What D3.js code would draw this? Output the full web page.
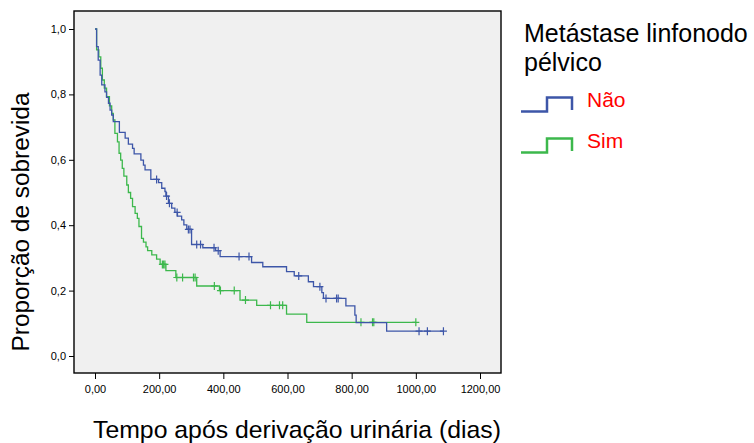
<!DOCTYPE html>
<html>
<head>
<meta charset="utf-8">
<script src="https://cdn.jsdelivr.net/npm/d3@7"></script>
<style>
  body { margin: 0; background: #fff; }
  svg { display: block; font-family: "Liberation Sans", Arial, sans-serif; }
  .tick text { font-size: 11px; fill: #000; }
  .tick line { stroke: #000; }
</style>
</head>
<body>
<svg width="754" height="443"></svg>
<script>
var svg = d3.select("svg");

// grupos
var groups = ["Não", "Sim"];
var colors = ["#3d56a8", "#3cb84c"];

// Não: tempos dos eventos e sobrevida após cada evento
var naoTimes = [5, 10, 16, 21, 31, 36, 42, 47, 52, 57, 76, 94, 104, 117, 122, 143, 151, 156, 174, 198,
                208, 218, 221, 229, 239, 249, 257, 270, 277, 286, 301, 336, 376, 390, 488, 523, 597, 621, 665, 681,
                707, 712, 782, 810, 814, 909];
var naoSurv = [0.946, 0.905, 0.859, 0.829, 0.808, 0.791, 0.773, 0.752, 0.737, 0.717, 0.684, 0.666, 0.648, 0.635, 0.618, 0.599, 0.584, 0.569, 0.540, 0.530,
               0.513, 0.503, 0.489, 0.467, 0.452, 0.439, 0.428, 0.416, 0.401, 0.387, 0.341, 0.331, 0.322, 0.304, 0.286, 0.273, 0.258, 0.245, 0.227, 0.212,
               0.194, 0.176, 0.153, 0.125, 0.102, 0.076];
var naoCensor = [192, 223, 232, 256, 291, 296, 317, 329, 371, 384, 449, 480, 635, 701, 720, 753, 758, 1010, 1036, 1086];
var naoEnd = 1086;

// Sim
var simTimes = [5, 12, 18, 23, 29, 36, 45, 52, 57, 62, 70, 75, 80, 85, 90, 99, 104, 111, 117, 125,
                132, 137, 145, 151, 159, 164, 177, 192, 203, 221, 252, 317, 388, 452, 504, 597, 660];
var simSurv = [0.936, 0.915, 0.880, 0.844, 0.819, 0.793, 0.765, 0.742, 0.722, 0.681, 0.655, 0.620, 0.599, 0.574, 0.550, 0.523, 0.500, 0.482, 0.457, 0.436,
               0.421, 0.396, 0.360, 0.348, 0.334, 0.322, 0.309, 0.296, 0.280, 0.261, 0.240, 0.214, 0.200, 0.171, 0.155, 0.128, 0.103];
var simCensor = [210, 214, 218, 255, 273, 307, 312, 372, 391, 434, 469, 547, 575, 585, 829, 865, 869, 1000];
var simEnd = 1000;

var xTicks = [0, 200, 400, 600, 800, 1000, 1200];
var yTicks = [0, 0.2, 0.4, 0.6, 0.8, 1.0];

var series = [
  { name: groups[0], color: colors[0], times: naoTimes, surv: naoSurv, censor: naoCensor, end: naoEnd },
  { name: groups[1], color: colors[1], times: simTimes, surv: simSurv, censor: simCensor, end: simEnd }
];

var x = d3.scaleLinear().domain([0, 1200]).range([95, 480]);
var y = d3.scaleLinear().domain([0, 1]).range([356, 29]);

// fundo do gráfico
svg.append("rect")
    .attr("x", 74).attr("y", 11)
    .attr("width", 427).attr("height", 362)
    .attr("fill", "#f0f0f0");

var comma = function (f) { return function (d) { return d3.format(f)(d).replace(".", ","); }; };

svg.append("g")
    .attr("transform", "translate(0,373)")
    .call(d3.axisBottom(x).tickValues(xTicks).tickSize(6).tickPadding(6).tickFormat(comma(".2f")))
    .call(function (g) { g.select(".domain").remove(); })
    .selectAll("text").attr("font-family", null);

svg.append("g")
    .attr("transform", "translate(74,0)")
    .call(d3.axisLeft(y).tickValues(yTicks).tickSize(5).tickPadding(3).tickFormat(comma(".1f")))
    .call(function (g) { g.select(".domain").remove(); })
    .selectAll("text").attr("font-family", null);

var line = d3.line()
    .x(function (d) { return x(d[0]); })
    .y(function (d) { return y(d[1]); })
    .curve(d3.curveStepAfter);

function survAt(s, t) {
  var v = 1;
  for (var i = 0; i < s.times.length; i++) if (s.times[i] <= t) v = s.surv[i];
  return v;
}

var curves = svg.append("g").attr("fill", "none");

series.slice().reverse().forEach(function (s) {
  var pts = [[0, 1]];
  s.times.forEach(function (t, i) { pts.push([t, s.surv[i]]); });
  pts.push([s.end, s.surv[s.surv.length - 1]]);

  curves.append("path")
      .attr("d", line(pts))
      .attr("stroke", s.color)
      .attr("stroke-width", 1.3);

  curves.selectAll(null)
      .data(s.censor)
      .enter().append("path")
      .attr("d", function (t) {
        var cx = x(t), cy = y(survAt(s, t));
        return "M" + (cx - 3.5) + "," + cy + "H" + (cx + 3.5) + "M" + cx + "," + (cy - 4) + "V" + (cy + 4);
      })
      .attr("stroke", s.color)
      .attr("stroke-width", 1.2);
});

// moldura
svg.append("rect")
    .attr("x", 74).attr("y", 11)
    .attr("width", 427).attr("height", 362)
    .attr("fill", "none")
    .attr("stroke", "#000")
    .attr("stroke-width", 1.4);

// títulos dos eixos
svg.append("text")
    .attr("x", 93).attr("y", 438)
    .attr("font-size", 24.8)
    .text("Tempo após derivação urinária (dias)");

svg.append("text")
    .attr("transform", "translate(29,222) rotate(-90)")
    .attr("text-anchor", "middle")
    .attr("font-size", 24.4)
    .text("Proporção de sobrevida");

// legenda
var legend = svg.append("g");

legend.append("text")
    .attr("x", 524).attr("y", 42)
    .attr("font-size", 25)
    .text("Metástase linfonodo");

legend.append("text")
    .attr("x", 524).attr("y", 71)
    .attr("font-size", 25)
    .text("pélvico");

series.forEach(function (s, i) {
  var by = 111.5 + i * 41;
  legend.append("path")
      .attr("d", "M521," + by + "H547V" + (by - 14) + "H572V" + (by - 1.5))
      .attr("fill", "none")
      .attr("stroke", s.color)
      .attr("stroke-width", 2.5);
  legend.append("text")
      .attr("x", 587).attr("y", by - 5)
      .attr("font-size", 21)
      .attr("fill", "#ff0000")
      .text(s.name);
});
</script>
</body>
</html>
